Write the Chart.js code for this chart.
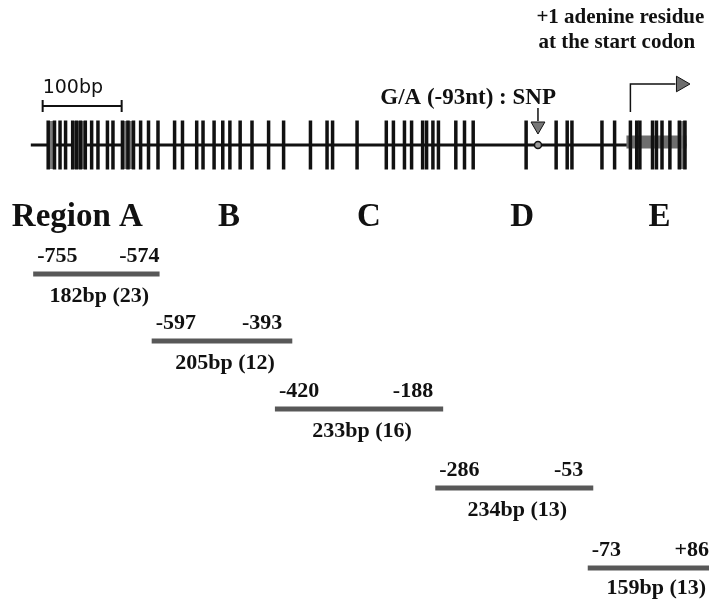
<!DOCTYPE html>
<html lang="en">
<head>
<meta charset="UTF-8">
<title>CpG sites of the promoter region</title>
<script src="https://cdn.jsdelivr.net/npm/chart.js@4.4.1/dist/chart.umd.min.js"></script>
<style>
   html, body { margin: 0; padding: 0; background: #fff; }
   #map { display: block; }
</style>
</head>
<body>
<canvas id="map" width="709" height="599"></canvas>
<script>
   // CpG sites as drawn on the map (bp, the drawing is not exactly to scale)
   const cpgSites = [-742, -734, -727, -720, -711, -706, -701, -695, -687, -679, -667, -660,
      -648, -641, -634, -625, -615, -603, -582, -572, -554, -546, -532, -521, -512, -499, -484,
      -463, -444, -410, -389, -382, -351, -314, -305, -291, -282, -268, -263, -255, -248,
      -226, -215, -204, -137, -99, -85, -79, -41, -25, -5, 3, 7, 23, 28, 35, 45, 57, 64];
   // dense clusters, drawn as grey blocks
   const clusterStart = [-743, -712, -649, 55];
   const clusterEnd = [-733, -693, -634, 66];

   const geneStart = -764;
   const exonStart = -10;
   const exonEnd = 66;
   const startCodonMap = -5;
   const snpMap = -122;
   const snpLabel = 'G/A (-93nt) : SNP';
   const scaleBarStart = -749;
   const scaleBarLength = 100;

   const regionNames = ['A', 'B', 'C', 'D', 'E'];
   const regionStart = [-755, -597, -420, -286, -73];
   const regionEnd = [-574, -393, -188, -53, 86];
   const regionLength = [182, 205, 233, 234, 159];
   const regionCpG = [23, 12, 16, 13, 13];
   // where each region bar sits on the drawn map
   const regionMapStart = [-761, -611, -455, -252, -59];
   const regionMapEnd = [-601, -433, -242, -52, 95];
   const headingPos = [-788, -513, -336, -142, 32];

   // vertical layout (rows, top = 0)
   const rowGene = 145;
   const rowExon = 142;
   const rowScale = 106;
   const rowHeading = 217;
   const rowRegion = [274, 341, 409, 488, 568];

   const serif = '"Liberation Serif", "Times New Roman", serif';

   function segment(x1, x2, y, color, width, order) {
      return {
         data: [{ x: x1, y: y }, { x: x2, y: y }],
         showLine: true,
         borderColor: color,
         borderWidth: width,
         borderCapStyle: 'butt',
         pointRadius: 0,
         order: order
      };
   }

   const datasets = [];
   datasets.push(segment(geneStart, exonEnd, rowGene, '#111', 3, 10));
   clusterStart.forEach((s, i) => datasets.push(segment(s, clusterEnd[i], rowGene, '#7a7a7a', 48, 9)));
   datasets.push(segment(exonStart, exonEnd, rowExon, '#6e6e6e', 13, 8));
   datasets.push({
      data: cpgSites.map(v => ({ x: v, y: rowGene })),
      pointStyle: 'line',
      pointRotation: 90,
      pointRadius: 24.5,
      pointBorderWidth: 3.5,
      pointBorderColor: '#111',
      order: 7
   });
   // SNP marker and arrow
   datasets.push({
      data: [{ x: snpMap, y: rowGene }],
      pointStyle: 'circle', pointRadius: 3.5,
      pointBackgroundColor: '#999', pointBorderColor: '#111', pointBorderWidth: 1.5,
      order: 1
   });
   datasets.push({
      data: [{ x: snpMap, y: rowScale + 2 }, { x: snpMap, y: rowGene - 24 }],
      showLine: true, borderColor: '#111', borderWidth: 1.5, pointRadius: 0, order: 2
   });
   datasets.push({
      data: [{ x: snpMap, y: rowGene - 19 }],
      pointStyle: 'triangle', pointRotation: 180, pointRadius: 8,
      pointBackgroundColor: '#777', pointBorderColor: '#111', pointBorderWidth: 1,
      order: 1
   });
   // bent arrow at the start codon
   datasets.push({
      data: [{ x: startCodonMap, y: rowGene - 33 }, { x: startCodonMap, y: 84 }, { x: 52, y: 84 }],
      showLine: true, borderColor: '#111', borderWidth: 1.5, pointRadius: 0, order: 2
   });
   datasets.push({
      data: [{ x: 59, y: 84 }],
      pointStyle: 'triangle', pointRotation: 90, pointRadius: 9,
      pointBackgroundColor: '#6e6e6e', pointBorderColor: '#111', pointBorderWidth: 1,
      order: 1
   });
   // 100bp scale bar
   datasets.push(segment(scaleBarStart, scaleBarStart + scaleBarLength, rowScale, '#111', 2, 3));
   datasets.push({
      data: [{ x: scaleBarStart, y: rowScale }, { x: scaleBarStart + scaleBarLength, y: rowScale }],
      pointStyle: 'line', pointRotation: 90, pointRadius: 6,
      pointBorderWidth: 2, pointBorderColor: '#111', order: 3
   });
   // regions
   regionNames.forEach((r, i) => {
      datasets.push(segment(regionMapStart[i], regionMapEnd[i], rowRegion[i], '#585858', 5, 3));
   });

   const textPlugin = {
      id: 'mapText',
      afterDatasetsDraw(chart) {
         const { ctx, scales: { x, y } } = chart;
         ctx.save();
         ctx.fillStyle = '#111';
         ctx.textBaseline = 'middle';

         ctx.font = '19px "DejaVu Sans", sans-serif';
         ctx.textAlign = 'left';
         ctx.fillText(scaleBarLength + 'bp', x.getPixelForValue(scaleBarStart), y.getPixelForValue(88));

         ctx.font = 'bold 21px ' + serif;
         const sx = x.getPixelForValue(startCodonMap);
         ctx.fillText('+1 adenine residue', sx - 94, y.getPixelForValue(18));
         ctx.fillText('at the start codon', sx - 92, y.getPixelForValue(43));

         ctx.font = 'bold 23px ' + serif;
         ctx.textAlign = 'right';
         ctx.fillText(snpLabel, x.getPixelForValue(snpMap) + 18, y.getPixelForValue(98));

         ctx.font = 'bold 33px ' + serif;
         regionNames.forEach((r, i) => {
            ctx.textAlign = i === 0 ? 'left' : 'center';
            const txt = i === 0 ? 'Region ' + r : r;
            ctx.fillText(txt, x.getPixelForValue(headingPos[i]), y.getPixelForValue(rowHeading));
         });

         ctx.font = 'bold 22px ' + serif;
         regionNames.forEach((r, i) => {
            const x1 = x.getPixelForValue(regionMapStart[i]);
            const x2 = Math.min(x.getPixelForValue(regionMapEnd[i]), chart.chartArea.right);
            const yy = y.getPixelForValue(rowRegion[i]);
            const fmt = v => (v > 0 ? '+' : '') + v;
            ctx.textAlign = 'left';
            ctx.fillText(fmt(regionStart[i]), x1 + 4, yy - 18);
            ctx.textAlign = 'right';
            ctx.fillText(fmt(regionEnd[i]), x2 - (i === 0 || i === 4 ? 0 : 10), yy - 18);
            ctx.textAlign = 'center';
            ctx.fillText(regionLength[i] + 'bp (' + regionCpG[i] + ')', (x1 + x2) / 2 + (i === 4 ? 8 : 3), yy + (i === 4 ? 20 : 22));
         });
         ctx.restore();
      }
   };

   new Chart(document.getElementById('map'), {
      type: 'scatter',
      data: { datasets: datasets },
      options: {
         responsive: false,
         animation: false,
         events: [],
         layout: { padding: 0, autoPadding: false },
         plugins: { legend: { display: false }, tooltip: { enabled: false } },
         scales: {
            x: { type: 'linear', min: -803, max: 94.5, display: false },
            y: { type: 'linear', min: 0, max: 599, reverse: true, display: false }
         }
      },
      plugins: [textPlugin]
   });
</script>
</body>
</html>
